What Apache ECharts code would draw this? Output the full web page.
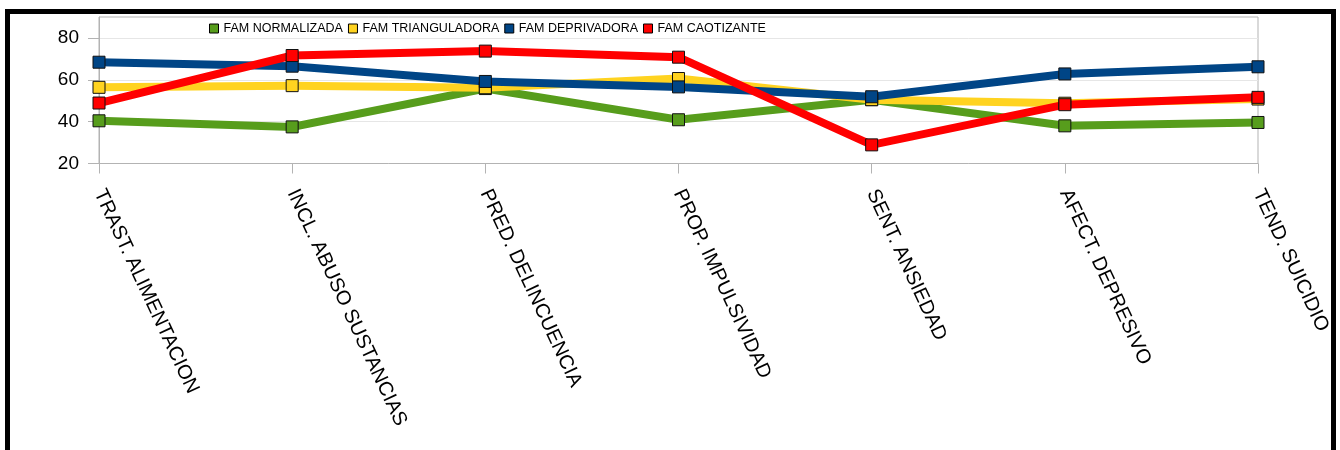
<!DOCTYPE html>
<html>
<head>
<meta charset="utf-8">
<script src="https://cdn.jsdelivr.net/npm/echarts@6/dist/echarts.min.js"></script>
<style>
  html, body { margin: 0; padding: 0; background: #fff; }
  #chart { width: 1340px; height: 450px; }
</style>
</head>
<body>
<div id="chart"></div>
<script>
// Categories of the profile and score per family type
const categories = [
  'TRAST. ALIMENTACION',
  'INCL. ABUSO SUSTANCIAS',
  'PRED. DELINCUENCIA',
  'PROP. IMPULSIVIDAD',
  'SENT. ANSIEDAD',
  'AFECT. DEPRESIVO',
  'TEND. SUICIDIO'
];
const famNormalizada    = [40.4, 37.5, 55.8, 40.9, 50.5, 38.0, 39.6];
const famTrianguladora  = [56.4, 57.2, 56.2, 60.6, 50.5, 48.8, 50.8];
const famDeprivadora    = [68.4, 66.5, 59.2, 56.6, 51.9, 62.8, 66.2];
const famCaotizante     = [48.9, 71.6, 73.7, 70.8, 28.9, 48.1, 51.6];
const yTicks = [20, 40, 60, 80];

const FONT = "'Liberation Sans', Arial, sans-serif";

function lineSeries(name, data, color) {
  return {
    name: name,
    type: 'line',
    data: data,
    symbol: 'rect',
    symbolSize: 12,
    lineStyle: { width: 8, color: color, cap: 'butt', join: 'miter' },
    itemStyle: { color: color, borderColor: '#111', borderWidth: 1 },
    emphasis: { disabled: true }
  };
}

const chart = echarts.init(document.getElementById('chart'), null, { renderer: 'canvas' });
chart.setOption({
  animation: false,
  backgroundColor: '#ffffff',
  grid: {
    left: 99, right: 82, top: 17, bottom: 286.5,
    show: true, borderColor: '#b3b3b3', borderWidth: 1, backgroundColor: 'transparent'
  },
  legend: {
    left: 209, top: 22, padding: 0,
    icon: 'rect',
    itemWidth: 9, itemHeight: 9, itemGap: 5,
    itemStyle: { borderColor: '#000', borderWidth: 1 },
    textStyle: { fontFamily: FONT, fontSize: 12.5, color: '#000' },
    data: ['FAM NORMALIZADA', 'FAM TRIANGULADORA', 'FAM DEPRIVADORA', 'FAM CAOTIZANTE']
  },
  xAxis: {
    type: 'category',
    data: categories,
    boundaryGap: false,
    axisLine: { lineStyle: { color: '#b3b3b3', width: 1 } },
    axisTick: { show: true, length: 10, lineStyle: { color: '#b3b3b3' } },
    axisLabel: {
      rotate: -65, margin: 27, interval: 0,
      fontFamily: FONT, fontSize: 20, color: '#000'
    },
    splitLine: { show: false }
  },
  yAxis: {
    type: 'value',
    min: 20, max: 90, interval: 20,
    axisLine: { show: true, lineStyle: { color: '#b3b3b3', width: 1 } },
    axisTick: { show: true, length: 11, customValues: yTicks, lineStyle: { color: '#b3b3b3' } },
    axisLabel: {
      customValues: yTicks, margin: 20,
      fontFamily: FONT, fontSize: 19, color: '#000'
    },
    splitLine: { show: true, lineStyle: { color: '#e6e6e6', width: 1 } }
  },
  graphic: [{
    type: 'rect',
    silent: true,
    z: 100,
    shape: { x: 7.5, y: 11.5, width: 1326, height: 500 },
    style: { fill: 'none', stroke: '#000', lineWidth: 5 }
  }],
  series: [
    lineSeries('FAM NORMALIZADA', famNormalizada, '#579d1c'),
    lineSeries('FAM TRIANGULADORA', famTrianguladora, '#ffd320'),
    lineSeries('FAM DEPRIVADORA', famDeprivadora, '#004586'),
    lineSeries('FAM CAOTIZANTE', famCaotizante, '#ff0000')
  ]
});
</script>
</body>
</html>
